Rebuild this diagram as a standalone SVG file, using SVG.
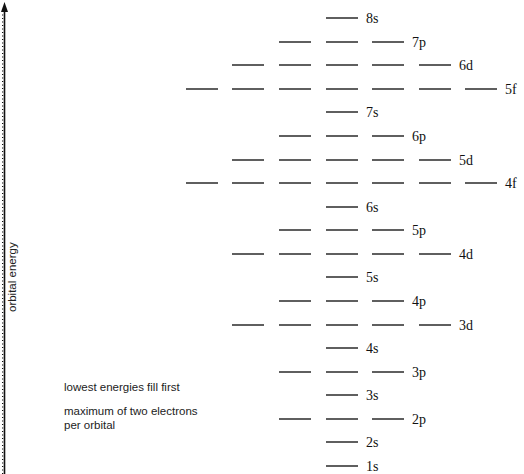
<svg xmlns="http://www.w3.org/2000/svg" width="524" height="474" viewBox="0 0 524 474">
<style>
.lv{stroke:#1a1a1a;stroke-width:1.4;fill:none}
.lb{font-family:"Liberation Serif","Times New Roman",serif;font-size:14px;fill:#111}
.nt{font-family:"Liberation Sans",Arial,sans-serif;font-size:11.5px;fill:#222}
.ax{stroke:#111;fill:none}
</style>
<defs>
<path id="d" d="M0 0h32" class="lv"/>
</defs>
<g id="axis">
<line class="ax" x1="4.5" y1="474" x2="4.5" y2="10" stroke-width="1.6"/>
<line class="ax" x1="2.6" y1="474" x2="2.6" y2="12" stroke-width="1.2" stroke-dasharray="1 2.5"/>
<polygon points="4.5,2 8,12 1,12" fill="#111"/>
<text class="nt" font-size="10" transform="translate(15.5,312) rotate(-90)">orbital energy</text>
</g>
<g id="connectors"></g>
<g id="notes">
<text class="nt" x="64" y="391">lowest energies fill first</text>
<text class="nt" x="64" y="415">maximum of two electrons</text>
<text class="nt" x="64" y="428.5">per orbital</text>
</g>
<g id="o8s"><use href="#d" x="326" y="18"/><text class="lb" x="366" y="22.5">8s</text></g>
<g id="o7p"><use href="#d" x="279" y="42"/><use href="#d" x="326" y="42"/><use href="#d" x="372" y="42"/><text class="lb" x="412" y="46.5">7p</text></g>
<g id="o6d"><use href="#d" x="232" y="65"/><use href="#d" x="279" y="65"/><use href="#d" x="326" y="65"/><use href="#d" x="372" y="65"/><use href="#d" x="419" y="65"/><text class="lb" x="459" y="69.5">6d</text></g>
<g id="o5f"><use href="#d" x="186" y="89"/><use href="#d" x="232" y="89"/><use href="#d" x="279" y="89"/><use href="#d" x="326" y="89"/><use href="#d" x="372" y="89"/><use href="#d" x="419" y="89"/><use href="#d" x="465" y="89"/><text class="lb" x="505" y="93.5">5f</text></g>
<g id="o7s"><use href="#d" x="326" y="112"/><text class="lb" x="366" y="116.5">7s</text></g>
<g id="o6p"><use href="#d" x="279" y="136"/><use href="#d" x="326" y="136"/><use href="#d" x="372" y="136"/><text class="lb" x="412" y="140.5">6p</text></g>
<g id="o5d"><use href="#d" x="232" y="160"/><use href="#d" x="279" y="160"/><use href="#d" x="326" y="160"/><use href="#d" x="372" y="160"/><use href="#d" x="419" y="160"/><text class="lb" x="459" y="164.5">5d</text></g>
<g id="o4f"><use href="#d" x="186" y="183"/><use href="#d" x="232" y="183"/><use href="#d" x="279" y="183"/><use href="#d" x="326" y="183"/><use href="#d" x="372" y="183"/><use href="#d" x="419" y="183"/><use href="#d" x="465" y="183"/><text class="lb" x="505" y="187.5">4f</text></g>
<g id="o6s"><use href="#d" x="326" y="207"/><text class="lb" x="366" y="211.5">6s</text></g>
<g id="o5p"><use href="#d" x="279" y="230"/><use href="#d" x="326" y="230"/><use href="#d" x="372" y="230"/><text class="lb" x="412" y="234.5">5p</text></g>
<g id="o4d"><use href="#d" x="232" y="254"/><use href="#d" x="279" y="254"/><use href="#d" x="326" y="254"/><use href="#d" x="372" y="254"/><use href="#d" x="419" y="254"/><text class="lb" x="459" y="258.5">4d</text></g>
<g id="o5s"><use href="#d" x="326" y="277"/><text class="lb" x="366" y="281.5">5s</text></g>
<g id="o4p"><use href="#d" x="279" y="301"/><use href="#d" x="326" y="301"/><use href="#d" x="372" y="301"/><text class="lb" x="412" y="305.5">4p</text></g>
<g id="o3d"><use href="#d" x="232" y="325"/><use href="#d" x="279" y="325"/><use href="#d" x="326" y="325"/><use href="#d" x="372" y="325"/><use href="#d" x="419" y="325"/><text class="lb" x="459" y="329.5">3d</text></g>
<g id="o4s"><use href="#d" x="326" y="348"/><text class="lb" x="366" y="352.5">4s</text></g>
<g id="o3p"><use href="#d" x="279" y="372"/><use href="#d" x="326" y="372"/><use href="#d" x="372" y="372"/><text class="lb" x="412" y="376.5">3p</text></g>
<g id="o3s"><use href="#d" x="326" y="395"/><text class="lb" x="366" y="399.5">3s</text></g>
<g id="o2p"><use href="#d" x="279" y="419"/><use href="#d" x="326" y="419"/><use href="#d" x="372" y="419"/><text class="lb" x="412" y="423.5">2p</text></g>
<g id="o2s"><use href="#d" x="326" y="442"/><text class="lb" x="366" y="446.5">2s</text></g>
<g id="o1s"><use href="#d" x="326" y="466"/><text class="lb" x="366" y="470.5">1s</text></g>
</svg>
